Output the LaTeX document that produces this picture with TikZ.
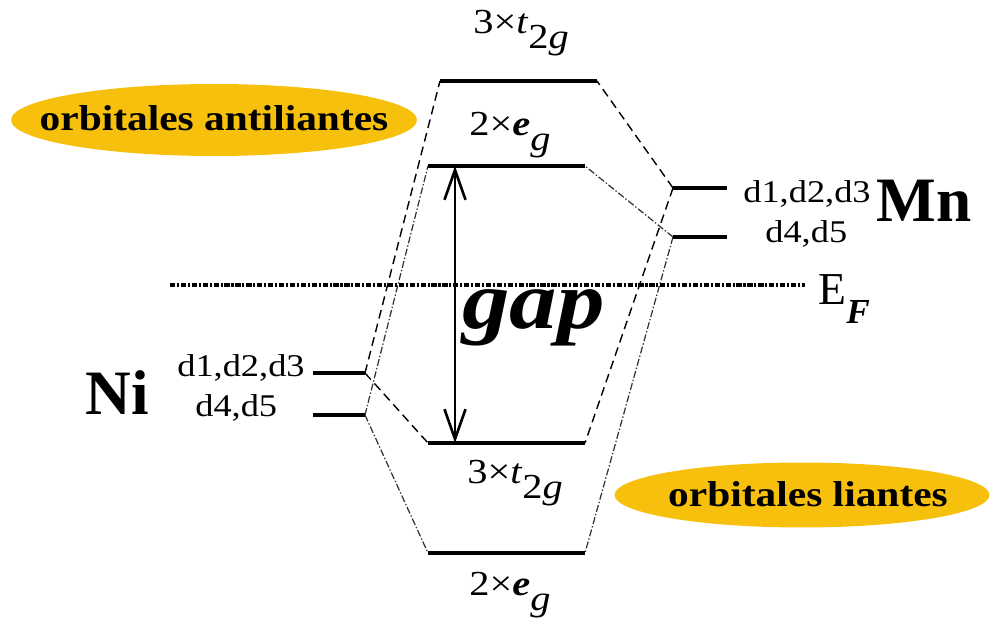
\documentclass[tikz,border=0pt]{standalone}
\usepackage{fontspec}
\setmainfont{Liberation Serif}
\newfontfamily\wide{Liberation Serif}[FakeStretch=1.15]
\usetikzlibrary{arrows.meta,shapes.geometric}
\definecolor{gold}{RGB}{246,192,12}
\newcommand{\lvltxt}[3]{#1×\textit{#2}\raisebox{-0.42em}{#3}}
\begin{document}
\begin{tikzpicture}[x=0.02cm,y=-0.02cm,
  level/.style={line width=2.4pt},
  dsh/.style={line width=0.8pt, dash pattern=on 5pt off 3pt},
  ddot/.style={line width=0.7pt, black!80, dash pattern=on 4pt off 1.2pt on 0.8pt off 1.2pt},
  efline/.style={line width=2.2pt, dash pattern=on 3pt off 1pt on 1.2pt off 1pt},
  oval/.style={ellipse, fill=gold, inner sep=0pt},
  lbl/.style={inner sep=0pt, anchor=base west, font=\wide\fontsize{20}{22}\selectfont},
  dlbl/.style={inner sep=0pt, anchor=base west, font=\wide\fontsize{18}{20}\selectfont},
  atom/.style={inner sep=0pt, anchor=base west, font=\bfseries\fontsize{36}{40}\selectfont},
  orb/.style={font=\wide\bfseries\fontsize{20.5}{24}\selectfont}]
\useasboundingbox (0,0) rectangle (992,621);

% ellipses
\node[oval, minimum width=8.12cm, minimum height=1.44cm] (anti) at (214,120) {};
\node[orb] (antitxt) at (214,118) {orbitales antiliantes};
\node[oval, minimum width=7.5cm, minimum height=1.3cm] (lia) at (802,495) {};
\node[orb] (liatxt) at (808,494) {orbitales liantes};

% level coordinates
\coordinate (TL) at (440,81);  \coordinate (TR) at (597,81);
\coordinate (EL) at (428,166); \coordinate (ER) at (585,166);
\coordinate (tL) at (428,443); \coordinate (tR) at (585,443);
\coordinate (eL) at (428,553); \coordinate (eR) at (585,553);
\coordinate (M1L) at (673,188); \coordinate (M1R) at (727,188);
\coordinate (M2L) at (673,237); \coordinate (M2R) at (727,237);
\coordinate (N1L) at (313,373); \coordinate (N1R) at (365,373);
\coordinate (N2L) at (313,415); \coordinate (N2R) at (365,415);

% connectors
\draw[dsh] (N1R) -- (TL);
\draw[dsh] (N1R) -- (tL);
\draw[ddot] (N2R) -- (EL);
\draw[ddot] (N2R) -- (eL);
\draw[dsh] (M1L) -- (TR);
\draw[dsh] (M1L) -- (tR);
\draw[ddot] (M2L) -- (ER);
\draw[ddot] (M2L) -- (eR);

% levels
\draw[level] (TL) -- (TR);
\draw[level] (EL) -- (ER);
\draw[level] (tL) -- (tR);
\draw[level] (eL) -- (eR);
\draw[level] (M1L) -- (M1R);
\draw[level] (M2L) -- (M2R);
\draw[level] (N1L) -- (N1R);
\draw[level] (N2L) -- (N2R);

% Fermi level
\coordinate (EFl) at (170,285); \coordinate (EFr) at (805,285);
\draw[efline] (EFl) -- (EFr);
\node[inner sep=0pt, anchor=base west, font=\fontsize{26}{28}\selectfont] (EF) at (818,305) {E\raisebox{-0.4em}{\fontsize{20}{20}\selectfont\bfseries\itshape F}};

% gap arrow
\coordinate (gt) at (455,166); \coordinate (gb) at (455,443);
\draw[line width=1.5pt, {Straight Barb[length=17pt,width=12pt]}-{Straight Barb[length=17pt,width=12pt]}] (gt) -- (gb);
\node[inner sep=0pt, anchor=base west, font=\wide\bfseries\itshape\fontsize{47}{50}\selectfont] (gap) at (462,329) {gap};

% level labels
\node[lbl] (l1) at (473,34) {\lvltxt{3}{t}{2\textit{g}}};
\node[lbl] (l2) at (469,136) {\lvltxt{2}{\textbf{e}}{\textit{g}}};
\node[lbl] (l3) at (467,484) {\lvltxt{3}{t}{2\textit{g}}};
\node[lbl] (l4) at (469,596) {\lvltxt{2}{\textbf{e}}{\textit{g}}};

% atom labels
\node[atom] (Ni) at (85,415) {Ni};
\node[atom] (Mn) at (876,222) {Mn};
\node[dlbl] (nd1) at (177,377) {d1,d2,d3};
\node[dlbl] (nd2) at (195,417) {d4,d5};
\node[dlbl] (md1) at (743,203) {d1,d2,d3};
\node[dlbl] (md2) at (765,243) {d4,d5};
\end{tikzpicture}
\end{document}
